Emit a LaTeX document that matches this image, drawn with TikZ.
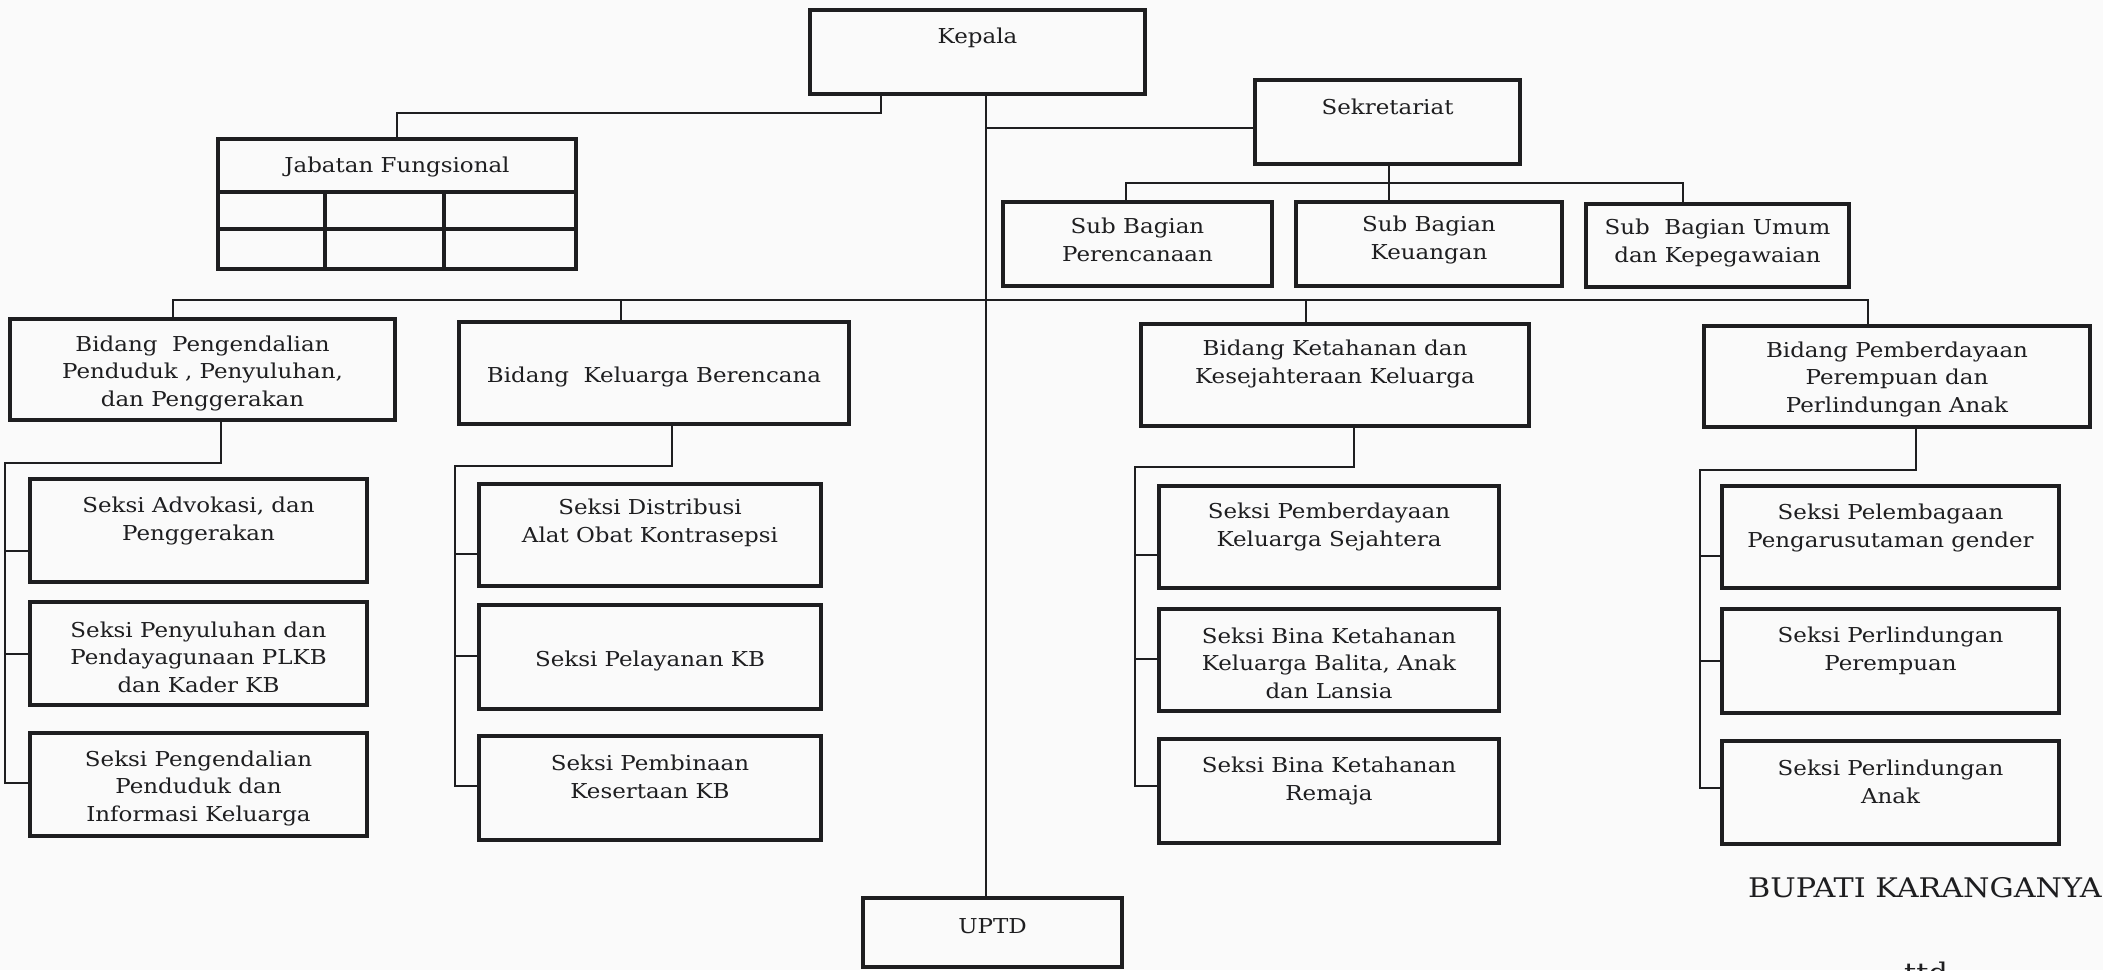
\documentclass[tikz,border=0pt]{standalone}
\usepackage{fontspec}
\setmainfont[FakeStretch=1.12]{DejaVu Serif}
\definecolor{ink}{RGB}{30,30,32}
\definecolor{paper}{RGB}{250,250,250}
\tikzset{
  box/.style={draw=ink, line width=3.2pt, inner sep=0pt},
  conn/.style={draw=ink, line width=2.6pt, line join=miter},
  mainline/.style={draw=ink, line width=2.2pt},
  txt/.style={align=center, text=ink, inner sep=0pt, font=\fontsize{20.5}{27.5}\selectfont},
}
\newcommand\bx[7]{%
  \pgfmathsetmacro\bxcx{(#2+#4)/2}%
  \pgfmathsetmacro\bxcy{(#3+#5)/2}%
  \pgfmathsetmacro\bxw{#4-#2}%
  \pgfmathsetmacro\bxh{#5-#3}%
  \node[box, minimum width=\bxw pt, minimum height=\bxh pt] (#1) at (\bxcx,\bxcy) {};%
  \node[txt] (#1t) at (\bxcx,#6) {#7};%
}
\begin{document}
\begin{tikzpicture}[x=1pt,y=-1pt]
\useasboundingbox[fill=paper] (0,0) rectangle (2103,970);
\clip (0,0) rectangle (2103,970);
% top level
\bx{kepala}{810}{10}{1145}{94}{38}{Kepala}
\bx{sek}{1255}{80}{1520}{164}{107}{Sekretariat}
\bx{sba}{1003}{202}{1272}{286}{240}{Sub Bagian\\Perencanaan}
\bx{sbb}{1296}{202}{1562}{286}{240}{Sub Bagian\\Keuangan}
\bx{sbc}{1586}{204}{1849}{287}{243}{Sub\ \ Bagian Umum\\dan Kepegawaian}
% jabatan fungsional
\bx{jf}{218}{139}{576}{269}{167}{Jabatan Fungsional}
\draw[box] (jf.west |- 0,192) -- (jf.east |- 0,192);
\draw[box] (jf.west |- 0,229) -- (jf.east |- 0,229);
\draw[box] (325,192) -- (jf.south -| 325,0);
\draw[box] (444,192) -- (jf.south -| 444,0);
% bidang
\bx{ba}{10}{319}{395}{420}{373}{Bidang\ \ Pengendalian\\Penduduk , Penyuluhan,\\dan Penggerakan}
\bx{bb}{459}{322}{849}{424}{377}{Bidang\ \ Keluarga Berencana}
\bx{bc}{1141}{324}{1529}{426}{364}{Bidang Ketahanan dan\\Kesejahteraan Keluarga}
\bx{bd}{1704}{326}{2090}{427}{379}{Bidang Pemberdayaan\\Perempuan dan\\Perlindungan Anak}
% seksi
\bx{sa1}{30}{479}{367}{582}{521}{Seksi Advokasi, dan\\Penggerakan}
\bx{sa2}{30}{602}{367}{705}{657}{Seksi Penyuluhan dan\\Pendayagunaan PLKB\\dan Kader KB}
\bx{sa3}{30}{733}{367}{836}{788}{Seksi Pengendalian\\Penduduk dan\\Informasi Keluarga}
\bx{sb1}{479}{484}{821}{586}{523}{Seksi Distribusi\\Alat Obat Kontrasepsi}
\bx{sb2}{479}{605}{821}{709}{661}{Seksi Pelayanan KB}
\bx{sb3}{479}{736}{821}{840}{777}{Seksi Pembinaan\\Kesertaan KB}
\bx{sc1}{1159}{486}{1499}{588}{527}{Seksi Pemberdayaan\\Keluarga Sejahtera}
\bx{sc2}{1159}{609}{1499}{711}{663}{Seksi Bina Ketahanan\\Keluarga Balita, Anak\\dan Lansia}
\bx{sc3}{1159}{739}{1499}{843}{781}{Seksi Bina Ketahanan\\Remaja}
\bx{sd1}{1722}{486}{2059}{588}{528}{Seksi Pelembagaan\\Pengarusutaman gender}
\bx{sd2}{1722}{609}{2059}{713}{651}{Seksi Perlindungan\\Perempuan}
\bx{sd3}{1722}{741}{2059}{844}{782}{Seksi Perlindungan\\Anak}
% UPTD
\bx{uptd}{863}{898}{1122}{967}{926}{UPTD}
% connectors
\draw[mainline] (kepala.south -| 986,0) -- (uptd.north -| 986,0);
\coordinate (msek) at (986,128);
\draw[conn] (msek) -- (sek.west |- msek);
\draw[conn] (kepala.south -| 881,0) |- (jf.north |- 0,113) -- (jf.north);
\draw[conn] (sek.south -| 1389,0) -- (sbb.north -| 1389,0);
\draw[conn] (sba.north -| 1126,0) |- (1683,183) -- (sbc.north -| 1683,0);
\draw[conn] (ba.north -| 173,0) |- (1868,300) -- (bd.north -| 1868,0);
\draw[conn] (bb.north -| 621,0) -- (621,300);
\draw[conn] (bc.north -| 1306,0) -- (1306,300);
% bidang 1 children
\draw[conn] (ba.south -| 221,0) |- (5,463) |- (sa3.west |- 0,783);
\draw[conn] (5,551) -- (sa1.west |- 0,551);
\draw[conn] (5,654) -- (sa2.west |- 0,654);
% bidang 2 children
\draw[conn] (bb.south -| 672,0) |- (455,466) |- (sb3.west |- 0,786);
\draw[conn] (455,554) -- (sb1.west |- 0,554);
\draw[conn] (455,656) -- (sb2.west |- 0,656);
% bidang 3 children
\draw[conn] (bc.south -| 1354,0) |- (1135,467) |- (sc3.west |- 0,786);
\draw[conn] (1135,555) -- (sc1.west |- 0,555);
\draw[conn] (1135,659) -- (sc2.west |- 0,659);
% bidang 4 children
\draw[conn] (bd.south -| 1916,0) |- (1700,470) |- (sd3.west |- 0,788);
\draw[conn] (1700,556) -- (sd1.west |- 0,556);
\draw[conn] (1700,661) -- (sd2.west |- 0,661);
% signature
\node[anchor=base west, inner sep=0pt, text=ink, font=\fontsize{27}{32}\selectfont] (bupati) at (1748,897) {BUPATI KARANGANYA};
\node[anchor=base west, inner sep=0pt, text=ink, font=\fontsize{27}{32}\selectfont] (ttd) at (1904,982) {ttd};
\end{tikzpicture}
\end{document}
